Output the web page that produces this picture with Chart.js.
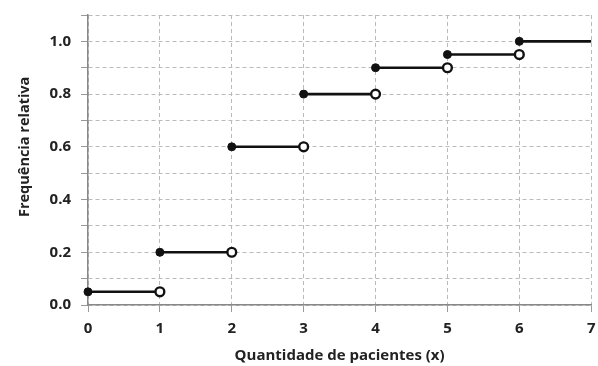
<!DOCTYPE html>
<html>
<head>
<meta charset="utf-8">
<script src="https://cdn.jsdelivr.net/npm/chart.js@4"></script>
<style>
html,body{margin:0;padding:0;background:#fff;}
#wrap{width:598px;height:366px;position:relative;}
</style>
</head>
<body>
<div id="wrap"><canvas id="c" width="598" height="366"></canvas></div>
<script>
// Data
const xValues = [0, 1, 2, 3, 4, 5, 6];
const relFreq = [0.05, 0.2, 0.6, 0.8, 0.9, 0.95, 1.0];
const xMax = 7;
const yTickLabels = ['0.0', '0.2', '0.4', '0.6', '0.8', '1.0'];

const datasets = xValues.map((x, i) => {
  const last = i === xValues.length - 1;
  const xEnd = last ? xMax : xValues[i + 1];
  return {
    data: [{x: x, y: relFreq[i]}, {x: xEnd, y: relFreq[i]}],
    borderColor: '#111',
    borderWidth: 2.6,
    pointRadius: [4, last ? 0 : 4.4],
    pointBorderWidth: [1, 2.4],
    pointBackgroundColor: ['#111', '#fff'],
    pointBorderColor: '#111',
    showLine: true,
    clip: false
  };
});

const fontFam = '"Open Sans", "Liberation Sans", sans-serif';

new Chart(document.getElementById('c'), {
  type: 'scatter',
  data: { datasets },
  options: {
    responsive: false,
    animation: false,
    events: [],
    layout: { padding: { left: 0, right: 1, top: 15, bottom: 0 } },
    plugins: { legend: { display: false }, tooltip: { enabled: false } },
    scales: {
      x: {
        type: 'linear',
        min: 0, max: xMax,
        afterFit: (s) => { s.height = 61; s.paddingRight = 0; },
        ticks: { stepSize: 1, color: '#222', font: { family: fontFam, size: 15, weight: 'bold' }, padding: 8 },
        grid: { color: '#bbb', lineWidth: 1, tickLength: 7, tickColor: '#999', tickBorderDash: [] },
        border: { display: true, color: '#888', width: 1.5, dash: [4, 3] },
        title: { display: true, text: 'Quantidade de pacientes (x)', color: '#222', font: { family: fontFam, size: 15, weight: 'bold' }, padding: { top: 0, bottom: 1 } }
      },
      y: {
        min: 0, max: 1.1,
        afterFit: (s) => { s.width = 88; s.paddingTop = 0; s.paddingBottom = 0; },
        ticks: {
          stepSize: 0.1, color: '#222', font: { family: fontFam, size: 15, weight: 'bold' }, padding: 10,
          callback: function(v) {
            const k = Math.round(v * 10);
            if (k % 2 !== 0) return '';
            const lbl = (k / 10).toFixed(1);
            return yTickLabels.includes(lbl) ? lbl : '';
          }
        },
        grid: { color: '#bbb', lineWidth: 1, tickLength: 7, tickColor: '#999', tickBorderDash: [] },
        border: { display: true, color: '#888', width: 1.5, dash: [4, 3] },
        title: { display: true, text: '\u00A0\u00A0\u00A0\u00A0\u00A0\u00A0\u00A0Frequência relativa', color: '#222', font: { family: fontFam, size: 14.5, weight: 'bold' }, padding: { top: 16, bottom: 0 } }
      }
    }
  }
});
</script>
</body>
</html>
